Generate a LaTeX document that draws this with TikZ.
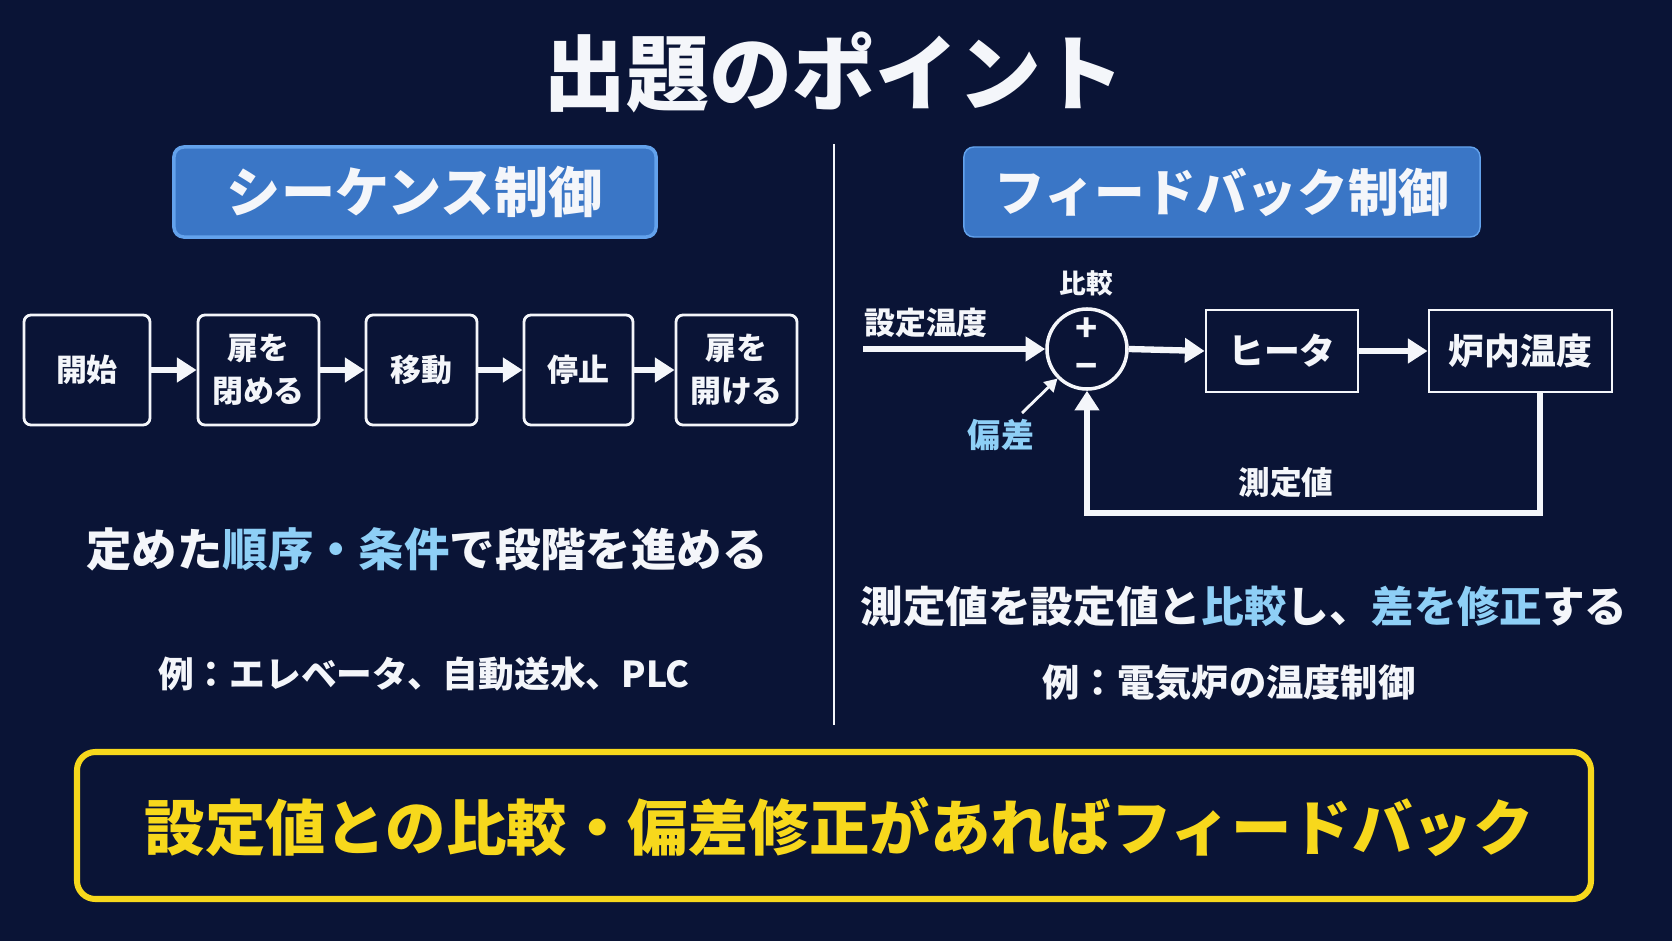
\documentclass[tikz,border=0pt]{standalone}
\usepackage{fontspec}
\setmainfont{Noto Sans CJK JP}
\usetikzlibrary{arrows.meta}
\usetikzlibrary{backgrounds}

\definecolor{navy}{HTML}{0A1436}
\definecolor{hdrblue}{HTML}{3A76C6}
\definecolor{hdredge}{HTML}{63A2EC}
\definecolor{hilite}{HTML}{8ECFF6}
\definecolor{gold}{HTML}{F7D81C}
\definecolor{chalk}{HTML}{F4F6FA}

\newcommand{\fsz}[1]{\fontsize{#1pt}{#1pt}\selectfont\bfseries}
\newcommand{\hl}[1]{\textcolor{hilite}{#1}}

\begin{document}
\begin{tikzpicture}[x=0.025cm,y=-0.025cm,
	>={Triangle[length=14pt,width=17pt]},
	every node/.style={text=chalk},
	hdr/.style={
		fill=hdrblue,
		draw=hdredge,
		rounded corners=7pt,
		minimum height=2.25cm,
	},
	seqbox/.style={
		draw=chalk,
		line width=2pt,
		rounded corners=5pt,
		minimum height=2.75cm,
		align=center,
		inner sep=0pt,
		font=\fontsize{22pt}{30.5pt}\selectfont\bfseries,
	},
	blk/.style={
		draw=chalk,
		line width=2pt,
		minimum height=2.05cm,
		font=\fsz{25.5},
	},
	flow/.style={->,draw=chalk,line width=4.5pt},
	lbl/.style={font=\fsz{#1}},
]
	% background
	\fill[navy] (0,0) rectangle (1672,941);
	\useasboundingbox (0,0) rectangle (1672,941);

	\node[lbl=59] (title) at (834,72) {出題のポイント};
	\draw[chalk,line width=1.4pt] (834,144) -- (834,725);

	% --- sequence control ---
	\node[hdr,line width=2.5pt,minimum width=12.05cm,lbl=38.5] (hdrseq) at (415,192) {シーケンス制御};

	\node[seqbox,minimum width=3.15cm]  (s1) at (87,370)    {開始};
	\node[seqbox,minimum width=3.025cm] (s2) at (258.5,370) {扉を\\閉める};
	\node[seqbox,minimum width=2.775cm] (s3) at (421.5,370) {移動};
	\node[seqbox,minimum width=2.725cm] (s4) at (578.5,370) {停止};
	\node[seqbox,minimum width=3.025cm] (s5) at (736.5,370) {扉を\\開ける};
	\foreach \i [evaluate={\j=int(\i+1)}] in {1,...,4}{
		\draw[flow] (s\i) -- (s\j);
	}

	\node[lbl=32.3] (seqnote) at (427,549) {定めた\hl{順序・条件}で段階を進める};
	\node[lbl=25.4] (seqex) at (424,674) {例：エレベータ、自動送水、PLC};

	% --- feedback control ---
	\node[hdr,line width=1pt,minimum width=12.9cm,lbl=36] (hdrfb) at (1222,192) {フィードバック制御};

	\node[circle,draw=chalk,line width=2.5pt,minimum size=2cm,inner sep=0pt] (cmp) at (1087,349) {};
	\node[align=center,inner sep=0pt,font=\fontsize{26pt}{27pt}\selectfont\bfseries] (sign) at (cmp) {+\\−};
	\node[lbl=19] (cmplbl) at (1086,283) {比較};

	\node[blk,minimum width=3.8cm]   (heater)  at (1282,351)   {ヒータ};
	\node[blk,minimum width=4.575cm] (furnace) at (1520.5,351) {炉内温度};

	\coordinate (in) at (863,349);
	\coordinate (fbcorner) at (1087,513);
	\coordinate (devtail) at (1022,413);

	\node[lbl=22] (setlbl) at (926,323) {設定温度};
	\node[lbl=23.5,text=hilite] (devlbl) at (1001,435) {偏差};
	\node[lbl=22.5] (measlbl) at (1286,483) {測定値};

	\draw[flow] (in) -- (cmp.west);
	\draw[flow] (cmp.east) -- (heater.west);
	\draw[flow] (heater.east) -- (furnace.west);
	\draw[flow] ([xshift=0.49cm]furnace.south) |- (fbcorner) -- (cmp.south);
	\draw[->,draw=chalk,line width=2pt,>={Triangle[length=9pt,width=10pt]}] (devtail) -- (cmp.-135);

	\node[lbl=30.3] (fbnote) at (1244,606) {測定値を設定値と\hl{比較}し、\hl{差を修正}する};
	\node[lbl=26.5] (fbex) at (1229,683) {例：電気炉の温度制御};

	% --- summary ---
	\draw[gold,line width=4.3pt,rounded corners=13pt] (77,752) rectangle (1591,899);
	\node[lbl=43,text=gold] (summary) at (839,827) {設定値との比較・偏差修正があればフィードバック};
\end{tikzpicture}
\end{document}
